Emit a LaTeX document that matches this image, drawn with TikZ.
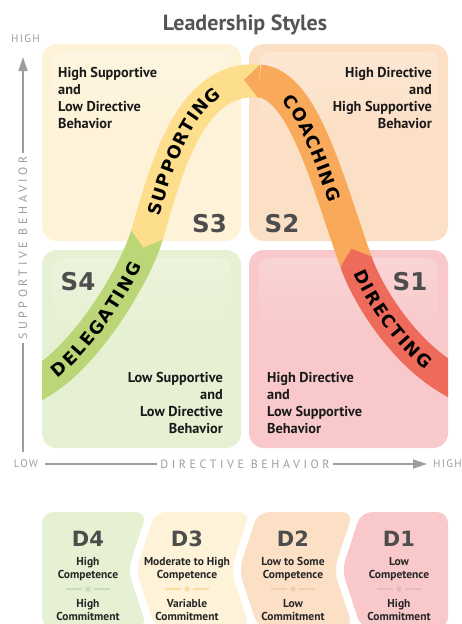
\documentclass[tikz,border=0pt]{standalone}
\usepackage{fontspec}
\setmainfont{PT Sans}
\newfontfamily\dvfont{DejaVu Sans}
\usetikzlibrary{arrows.meta,decorations.text}
\definecolor{qY}{HTML}{FEF3D8}
\definecolor{qO}{HTML}{FCE0C6}
\definecolor{qG}{HTML}{E6F0D2}
\definecolor{qR}{HTML}{F8C8CA}
\definecolor{bG}{HTML}{BBD677}
\definecolor{bY}{HTML}{FDDE8C}
\definecolor{bO}{HTML}{F8A95A}
\definecolor{bR}{HTML}{EE6B5B}
\definecolor{axc}{HTML}{9D9D9D}
\definecolor{titc}{HTML}{555555}
\definecolor{labc}{HTML}{4D4D4D}
\definecolor{sepG}{HTML}{CCD9C6}
\definecolor{sepY}{HTML}{F8DCA0}
\definecolor{sepO}{HTML}{F2CDB2}
\definecolor{sepR}{HTML}{EAB8BB}
\newcommand\bandfont{\dvfont\bfseries\fontsize{17.5}{17.5}\selectfont\fontdimen2\font=1.5pt\relax}
\begin{document}
\begin{tikzpicture}[x=1pt,y=-1pt,
  quad/.style={rounded corners=15pt},
  dbox/.style={rounded corners=11pt},
  band/.style={line width=33pt},
  qtext/.style={inner sep=0pt, font=\bfseries\fontsize{14.3}{17}\selectfont, text=black!90},
  slab/.style={font=\dvfont\bfseries\fontsize{24.5}{24.5}\selectfont, text=labc, inner sep=0pt, anchor=base},
  dlab/.style={font=\dvfont\bfseries\fontsize{21}{21}\selectfont, text=labc, inner sep=0pt, anchor=base},
  dtext/.style={font=\bfseries\fontsize{11.5}{13}\selectfont, inner sep=0pt, text=black!85, anchor=base},
  axis/.style={draw=axc, line width=1.3pt},
  axlab/.style={text=axc, font=\fontsize{12}{12}\selectfont\addfontfeature{LetterSpace=30}, inner sep=3pt},
  axsmall/.style={text=axc, font=\fontsize{11}{11}\selectfont\addfontfeature{LetterSpace=12}, inner sep=0pt},
  btext/.style={decorate, decoration={text along path, text color=black, raise=-6.4pt}},
]
\useasboundingbox (0,0) rectangle (461,624);
\clip (0,0) rectangle (461,624);

% quadrants
\fill[qY, quad] (42,44) rectangle (241,241);
\fill[qO, quad] (249,44) rectangle (448,241);
\fill[qG, quad] (42,250) rectangle (241,448);
\fill[qR, quad] (249,250) rectangle (448,448);
% gloss
\shade[rounded corners=10pt, top color=white!22!qY, bottom color=qY] (52,52) rectangle (231,130);
\shade[rounded corners=10pt, top color=white!22!qO, bottom color=qO] (259,52) rectangle (438,130);
\shade[rounded corners=10pt, top color=white!22!qG, bottom color=qG] (52,258) rectangle (231,336);
\shade[rounded corners=10pt, top color=white!22!qR, bottom color=qR] (259,258) rectangle (438,336);

% band
\begin{scope}
\clip (42,0) rectangle (448,624);
\draw[band, bG] (24.9,391.3) -- (42,381) .. controls (87,354) and (135,275) .. (147,235);
\draw[band, bY] (147,235) .. controls (166,171) and (189,75.4) .. (259,81);
\draw[band, bO] (259,81) .. controls (303,84) and (327,180) .. (356,262);
\draw[band, bR] (356,262) .. controls (368,296) and (403,351) .. (448,378) -- (465,388);
\fill[bY] (162.8,239.7) -- (143.3,247.5) -- (131.2,230.3) -- cycle;
\fill[bO] (257.7,97.5) -- (244,79.8) -- (260.3,64.5) -- cycle;
\fill[bR] (371.6,256.5) -- (351.3,248.8) -- (340.4,267.5) -- cycle;
\end{scope}
\path[btext, decoration={text={|\bandfont|D E L E G A T I N G}, text align={left indent=14pt}}]
  (42,381) .. controls (87,354) and (135,275) .. (147,235);
\path[btext, decoration={text={|\bandfont|S U P P O R T I N G}, text align={left indent=21pt}}]
  (147,235) .. controls (166,171) and (189,75.4) .. (259,81);
\path[btext, decoration={text={|\bandfont|C O A C H I N G}, text align={left indent=33pt}}]
  (259,81) .. controls (303,84) and (327,180) .. (356,262);
\path[btext, decoration={text={|\bandfont|D I R E C T I N G}, text align={left indent=9pt}}]
  (356,262) .. controls (368,296) and (403,351) .. (448,378);

% quadrant texts
\node[qtext, anchor=north west, align=left] (t3) at (58,67) {High Supportive\\and\\Low Directive\\Behavior};
\node[qtext, anchor=north east, align=right] (t2) at (432,67) {High Directive\\and\\High Supportive\\Behavior};
\node[qtext, anchor=north east, align=right] (t4) at (223,372) {Low Supportive\\and\\Low Directive\\Behavior};
\node[qtext, anchor=north west, align=left] (t1) at (267,372) {High Directive\\and\\Low Supportive\\Behavior};

% style labels
\node[slab] (s3) at (209.5,232) {S3};
\node[slab] (s2) at (282,232) {S2};
\node[slab] (s4) at (78,290) {S4};
\node[slab] (s1) at (410,290) {S1};

% title
\node[font=\bfseries\fontsize{22}{22}\selectfont, text=titc, anchor=base, inner sep=0pt] (title) at (245,30) {Leadership Styles};

% axes
\coordinate (yb) at (23,452);
\coordinate (yt) at (23,57);
\draw[axis, -{Triangle[length=14pt,width=9pt]}] (yb) -- (yt);
\node[axlab, rotate=90, fill=white] (ylab) at (23,248) {SUPPORTIVE BEHAVIOR};
\coordinate (xa) at (45,464);
\coordinate (xb) at (427,464);
\draw[axis, -{Triangle[length=14pt,width=9pt]}] (xa) -- (xb);
\node[axlab, fill=white, inner ysep=2pt] (xlab) at (245,464) {DIRECTIVE BEHAVIOR};
\node[axsmall] (low) at (26,464) {LOW};
\node[axsmall, anchor=west] (hx) at (433,464) {HIGH};
\node[axsmall] (hy) at (25.5,39) {HIGH};

% development level boxes
\fill[qG, dbox] (42,512) -- (147,512) -- (128,570) -- (147,628) -- (42,628) -- cycle;
\fill[qY, dbox] (155,512) -- (250,512) -- (231,570) -- (250,628) -- (155,628) -- (136,570) -- cycle;
\fill[qO, dbox] (258,512) -- (353,512) -- (334,570) -- (353,628) -- (258,628) -- (239,570) -- cycle;
\fill[qR, dbox] (361,512) -- (448,512) -- (448,628) -- (361,628) -- (342,570) -- cycle;

\node[dlab] (d4) at (88,546.5) {D4};
\node[dlab] (d3) at (187,546.5) {D3};
\node[dlab] (d2) at (293,546.5) {D2};
\node[dlab] (d1) at (399,546.5) {D1};

\node[dtext] (d4a) at (88,565) {High};
\node[dtext] (d4b) at (88,578) {Competence};
\node[dtext] (d4c) at (88,607.5) {High};
\node[dtext] (d4d) at (88,620.5) {Commitment};
\node[dtext] (d3a) at (187,565) {Moderate to High};
\node[dtext] (d3b) at (187,578) {Competence};
\node[dtext] (d3c) at (187,607.5) {Variable};
\node[dtext] (d3d) at (187,620.5) {Commitment};
\node[dtext] (d2a) at (293,565) {Low to Some};
\node[dtext] (d2b) at (293,578) {Competence};
\node[dtext] (d2c) at (293,607.5) {Low};
\node[dtext] (d2d) at (293,620.5) {Commitment};
\node[dtext] (d1a) at (399,565) {Low};
\node[dtext] (d1b) at (399,578) {Competence};
\node[dtext] (d1c) at (399,607.5) {High};
\node[dtext] (d1d) at (399,620.5) {Commitment};

% separators
\foreach \cx/\cc in {88/sepG,187/sepY,293/sepO,399/sepR}{
  \draw[\cc, line width=1.3pt] (\cx-22,589) -- (\cx-6,589) (\cx+6,589) -- (\cx+22,589);
  \fill[\cc] (\cx,589) circle (2.7pt);
}
\end{tikzpicture}
\end{document}
